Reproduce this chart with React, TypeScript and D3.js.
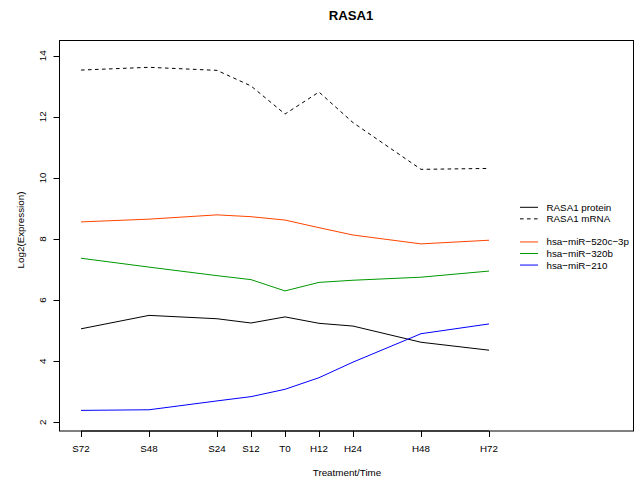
import React from "react";
import * as d3 from "d3";

// Time points in hours relative to treatment (S = serum starved, H = after treatment)
const timeLabels = ["S72", "S48", "S24", "S12", "T0", "H12", "H24", "H48", "H72"];
const timeHours = [-72, -48, -24, -12, 0, 12, 24, 48, 72];

const proteinValues = [5.06, 5.5, 5.39, 5.25, 5.45, 5.24, 5.15, 4.62, 4.36];
const mrnaValues = [13.53, 13.62, 13.52, 13.01, 12.09, 12.81, 11.81, 10.28, 10.31];
const mir520cValues = [8.56, 8.65, 8.79, 8.73, 8.62, 8.37, 8.13, 7.84, 7.96];
const mir320bValues = [7.37, 7.08, 6.8, 6.67, 6.3, 6.58, 6.65, 6.75, 6.95];
const mir210Values = [2.39, 2.41, 2.7, 2.84, 3.08, 3.46, 3.97, 4.9, 5.22];

const yTicks = [2, 4, 6, 8, 10, 12, 14];

const DASH = "3.6,3.4";

const legendEntries = [
  { label: "RASA1 protein", color: "#000000", dash: null as string | null },
  { label: "RASA1 mRNA", color: "#000000", dash: DASH },
  null,
  { label: "hsa\u2212miR\u2212520c\u22123p", color: "#FF4500", dash: null },
  { label: "hsa\u2212miR\u2212320b", color: "#009900", dash: null },
  { label: "hsa\u2212miR\u2212210", color: "#0000FF", dash: null },
];

const seriesList = [
  { values: mrnaValues, color: "#000000", dash: DASH },
  { values: mir520cValues, color: "#FF4500", dash: null as string | null },
  { values: mir320bValues, color: "#009900", dash: null },
  { values: proteinValues, color: "#000000", dash: null },
  { values: mir210Values, color: "#0000FF", dash: null },
];

const W = 639;
const H = 483;
const box = { left: 59.5, right: 633.5, top: 40.5, bottom: 431 };
const font = "'Liberation Sans', Arial, Helvetica, sans-serif";
const fs = 9.8;

export default function App() {
  const x = d3.scaleLinear().domain([-72, 72]).range([81, 489]);
  const y = d3.scaleLinear().domain([2, 14]).range([422.3, 55.7]);

  const line = d3
    .line<number>()
    .x((_, i) => x(timeHours[i]))
    .y((d) => y(d));

  return (
    <div style={{ position: "fixed", left: 0, top: 0 }}>
      <svg width={W} height={H} style={{ display: "block", background: "#fff" }}>
        <rect x={0} y={0} width={W} height={H} fill="#fff" />
        <text
          x={351}
          y={20}
          textAnchor="middle"
          fontFamily={font}
          fontWeight="bold"
          fontSize={13.2}
        >
          RASA1
        </text>

        {/* plot frame */}
        <rect
          x={box.left}
          y={box.top}
          width={box.right - box.left}
          height={box.bottom - box.top}
          fill="none"
          stroke="#000"
          strokeWidth={1}
        />

        {/* series */}
        {seriesList.map((s, i) => (
          <path
            key={i}
            d={line(s.values) || ""}
            fill="none"
            stroke={s.color}
            strokeWidth={1}
            strokeDasharray={s.dash || undefined}
          />
        ))}

        {/* x axis */}
        <line x1={x(-72)} x2={x(72)} y1={box.bottom} y2={box.bottom} stroke="#000" />
        {timeHours.map((h, i) => (
          <g key={h}>
            <line
              x1={Math.round(x(h)) + 0.5}
              x2={Math.round(x(h)) + 0.5}
              y1={box.bottom}
              y2={box.bottom + 6}
              stroke="#000"
            />
            <text
              x={x(h)}
              y={452.3}
              textAnchor="middle"
              fontFamily={font}
              fontSize={fs}
            >
              {timeLabels[i]}
            </text>
          </g>
        ))}
        <text x={347} y={476} textAnchor="middle" fontFamily={font} fontSize={fs}>
          Treatment/Time
        </text>

        {/* y axis */}
        <line x1={box.left} x2={box.left} y1={y(2)} y2={y(14)} stroke="#000" />
        {yTicks.map((t) => (
          <g key={t}>
            <line
              x1={box.left - 6}
              x2={box.left}
              y1={Math.round(y(t)) + 0.5}
              y2={Math.round(y(t)) + 0.5}
              stroke="#000"
            />
            <text
              transform={`translate(45.7,${y(t)}) rotate(-90)`}
              textAnchor="middle"
              fontFamily={font}
              fontSize={fs}
            >
              {t}
            </text>
          </g>
        ))}
        <text
          transform={`translate(24,230) rotate(-90)`}
          textAnchor="middle"
          fontFamily={font}
          fontSize={fs}
        >
          Log2(Expression)
        </text>

        {/* legend */}
        {legendEntries.map((e, i) =>
          e ? (
            <g key={i} transform={`translate(0,${207.3 + i * 11.55})`}>
              <line
                x1={520}
                x2={538}
                y1={0}
                y2={0}
                stroke={e.color}
                strokeWidth={1}
                strokeDasharray={e.dash || undefined}
              />
              <text x={546.5} y={3.5} fontFamily={font} fontSize={fs}>
                {e.label}
              </text>
            </g>
          ) : null
        )}
      </svg>
    </div>
  );
}
